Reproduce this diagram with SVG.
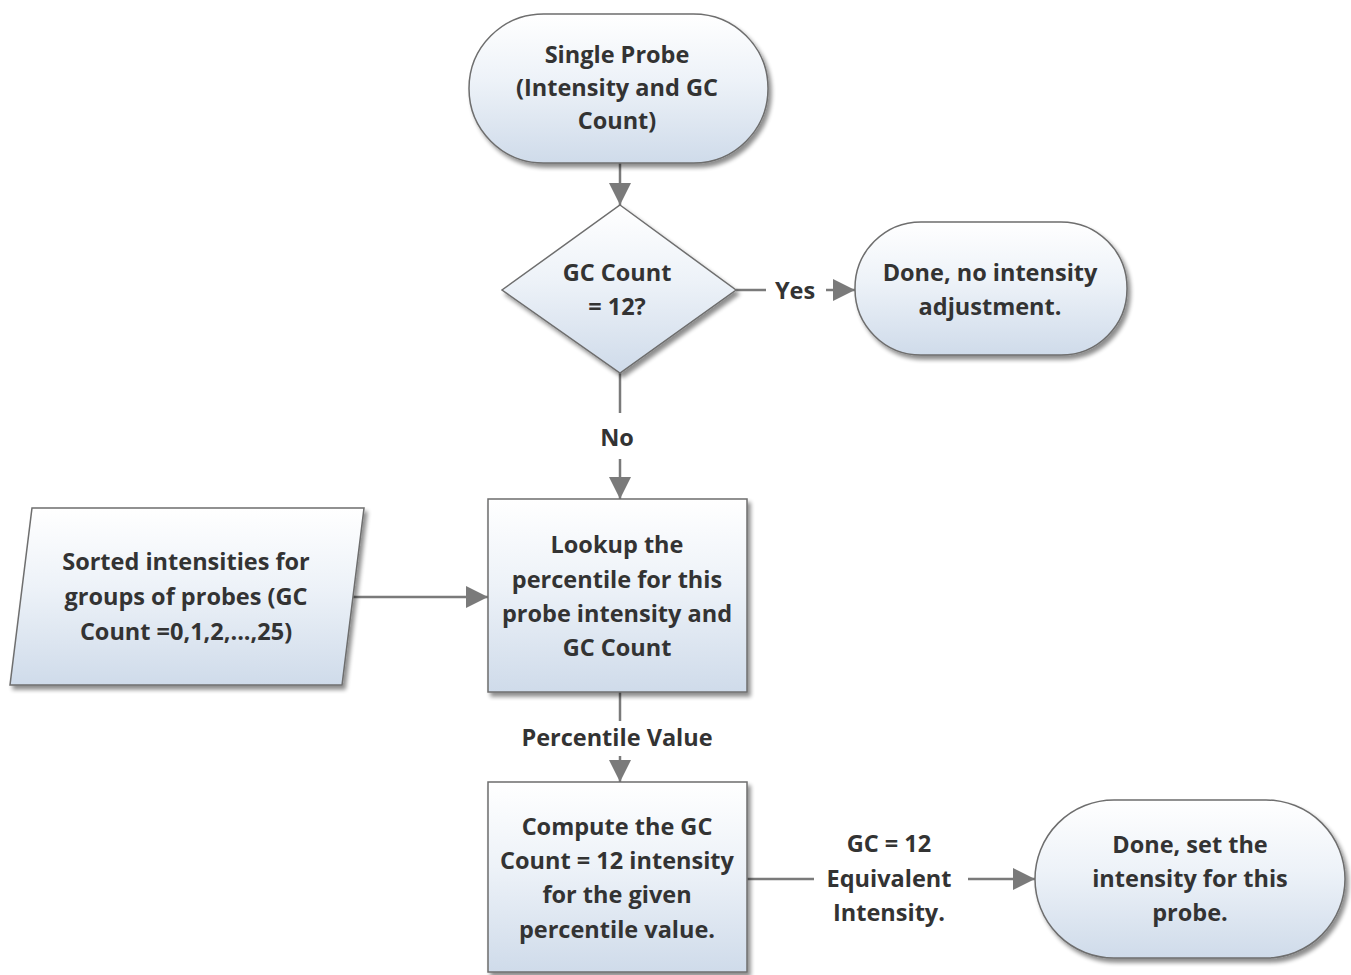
<svg xmlns="http://www.w3.org/2000/svg" width="1351" height="975" viewBox="0 0 1351 975">
<defs>
<linearGradient id="g" x1="0" y1="0" x2="0" y2="1">
<stop offset="0" stop-color="#ffffff"/>
<stop offset="0.45" stop-color="#edf2f8"/>
<stop offset="1" stop-color="#cfdbea"/>
</linearGradient>
<filter id="sh" x="-10%" y="-10%" width="125%" height="130%">
<feGaussianBlur in="SourceAlpha" stdDeviation="2"/>
<feOffset dx="3" dy="4"/>
<feComponentTransfer><feFuncA type="linear" slope="0.45"/></feComponentTransfer>
<feMerge><feMergeNode/><feMergeNode in="SourceGraphic"/></feMerge>
</filter>
<marker id="ahb" viewBox="0 0 20 20" refX="20" refY="10" markerWidth="22" markerHeight="22" markerUnits="userSpaceOnUse" orient="auto">
<path d="M0,0 L20,10 L0,20 z" fill="#7a7a7a"/>
</marker>
<style>
.s{fill:url(#g);stroke:#6e6e6e;stroke-width:1.5;filter:url(#sh)}
.t{font-family:"Open Sans","Liberation Sans",Arial,sans-serif;font-weight:700;font-size:23.5px;fill:#333;text-anchor:middle}
.c{stroke:#7a7a7a;stroke-width:2.5;fill:none}
.a{stroke:#7a7a7a;stroke-width:2.5;fill:none;marker-end:url(#ahb)}
</style>
</defs>
<g id="connectors">
<line class="a" x1="620" y1="163" x2="620" y2="205"/>
<line class="c" x1="736" y1="290" x2="766" y2="290"/>
<line class="a" x1="826" y1="290" x2="855" y2="290"/>
<line class="c" x1="620" y1="373" x2="620" y2="413"/>
<line class="a" x1="620" y1="459" x2="620" y2="499"/>
<line class="a" x1="352" y1="597" x2="488" y2="597"/>
<line class="c" x1="620" y1="692" x2="620" y2="721"/>
<line class="a" x1="620" y1="756" x2="620" y2="782"/>
<line class="c" x1="747" y1="879" x2="814" y2="879"/>
<line class="a" x1="968" y1="879" x2="1035" y2="879"/>
<text class="t" x="795" y="299">Yes</text>
<text class="t" x="617" y="446">No</text>
<text class="t" x="617" y="746">Percentile Value</text>
<text class="t" x="889" y="852">GC = 12</text>
<text class="t" x="889" y="887">Equivalent</text>
<text class="t" x="889" y="921">Intensity.</text>
</g>
<g id="start">
<rect class="s" x="469" y="14" width="299" height="149" rx="74.5" ry="74.5"/>
<text class="t" x="617" y="63">Single Probe</text>
<text class="t" x="617" y="96">(Intensity and GC</text>
<text class="t" x="617" y="129">Count)</text>
</g>
<g id="decision">
<polygon class="s" points="620,205 736,290 620,373 502,290"/>
<text class="t" x="617" y="281">GC Count</text>
<text class="t" x="617" y="315">= 12?</text>
</g>
<g id="done-no">
<rect class="s" x="855" y="222" width="272" height="133" rx="66" ry="66"/>
<text class="t" x="990" y="281">Done, no intensity</text>
<text class="t" x="990" y="315">adjustment.</text>
</g>
<g id="sorted">
<polygon class="s" points="32,508 364,508 342,685 10,685"/>
<text class="t" x="186" y="570">Sorted intensities for</text>
<text class="t" x="186" y="605">groups of probes (GC</text>
<text class="t" x="186" y="640">Count =0,1,2,...,25)</text>
</g>
<g id="lookup">
<rect class="s" x="488" y="499" width="259" height="193"/>
<text class="t" x="617" y="553">Lookup the</text>
<text class="t" x="617" y="588">percentile for this</text>
<text class="t" x="617" y="622">probe intensity and</text>
<text class="t" x="617" y="656">GC Count</text>
</g>
<g id="compute">
<rect class="s" x="488" y="782" width="259" height="190"/>
<text class="t" x="617" y="835">Compute the GC</text>
<text class="t" x="617" y="869">Count = 12 intensity</text>
<text class="t" x="617" y="903">for the given</text>
<text class="t" x="617" y="938">percentile value.</text>
</g>
<g id="done-set">
<rect class="s" x="1035" y="800" width="310" height="158" rx="79" ry="79"/>
<text class="t" x="1190" y="853">Done, set the</text>
<text class="t" x="1190" y="887">intensity for this</text>
<text class="t" x="1190" y="921">probe.</text>
</g>
</svg>
